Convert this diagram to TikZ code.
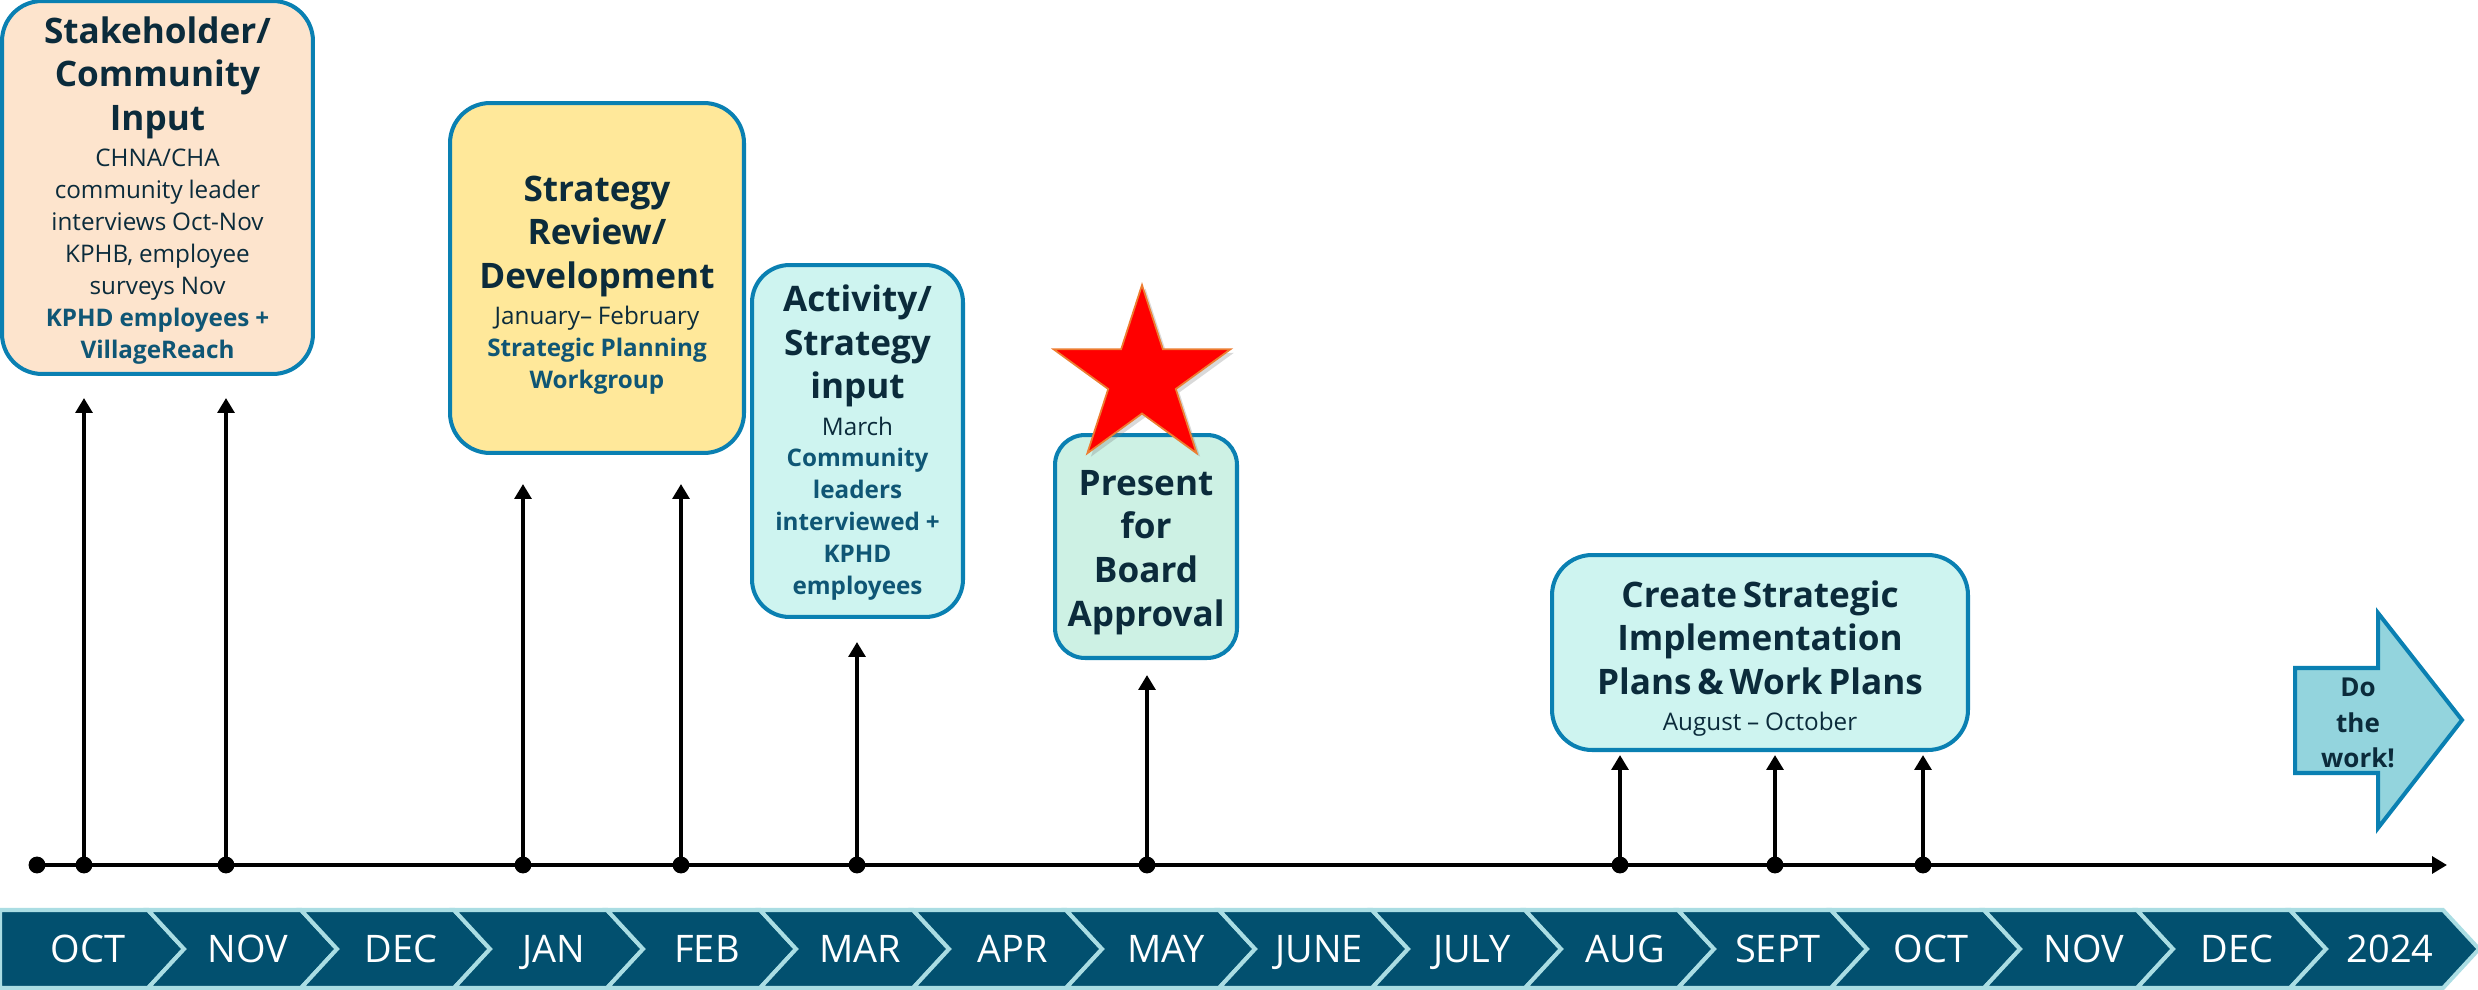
\documentclass[tikz,border=0pt]{standalone}
\usepackage{fontspec}
\setmainfont{Open Sans}
\usetikzlibrary{positioning,arrows.meta,shapes.geometric,shadows}

\definecolor{boxline}{HTML}{0A80B2}
\definecolor{peach}{HTML}{FDE4CD}
\definecolor{butter}{HTML}{FFE89A}
\definecolor{aqua}{HTML}{CEF4F0}
\definecolor{mint}{HTML}{CDF1E4}
\definecolor{arrowfill}{HTML}{93D4DD}
\definecolor{ink}{HTML}{0B2B3B}
\definecolor{teamink}{HTML}{0F5675}
\definecolor{band}{HTML}{02506F}
\definecolor{bandline}{HTML}{AADDE3}
\definecolor{starline}{HTML}{ED7D31}

\newcommand{\boxhead}[1]{{\fontsize{20pt}{24.8pt}\selectfont\bfseries #1\par}\vspace{2.3pt}}
\newcommand{\boxbody}[1]{{\fontsize{13.8pt}{18.2pt}\selectfont #1\par}}
\newcommand{\boxteam}[1]{{\fontsize{13.8pt}{18.2pt}\selectfont\bfseries\color{teamink}#1\par}}

\begin{document}
\begin{tikzpicture}[x=0.02cm, y=-0.02cm,
  stagebox/.style={draw=boxline, line width=2.3pt, rounded corners=0.8cm, inner sep=0pt},
  stagetext/.style={align=center, text=ink, inner sep=0pt},
  riser/.style={line width=2.8pt, -{Triangle[width=9.5pt,length=8.5pt]}},
  chevron/.style={fill=band, draw=bandline, line width=2.3pt},
  monthlabel/.style={text=white, font=\fontsize{21.6pt}{26pt}\selectfont, text height=15.4pt, text depth=0pt}]
\useasboundingbox (0,0) rectangle (2478,990);

% Radius of the dots on the time axis
\def\radius{4.8pt}

% Month chevrons along the bottom
\draw[chevron] (0,910) -- (148,910) -- (184,949) -- (148,988) -- (0,988) -- cycle;
\foreach \i in {1,...,15} {
  \pgfmathsetmacro\xl{-5+153*\i}
  \draw[chevron] (\xl,910) -- ({\xl+153},910) -- ({\xl+189},949) -- ({\xl+153},988) -- (\xl,988) -- ({\xl+36},949) -- cycle;
}
\node[monthlabel] (month0) at (88,949) {OCT};
\foreach \month [count=\i from 1] in {NOV,DEC,JAN,FEB,MAR,APR,MAY,JUNE,JULY,AUG,SEPT,OCT,NOV,DEC,2024} {
  \node[monthlabel] (month\i) at ({95+153*\i},949) {\month};
}

% Stage boxes
\node[stagebox, fill=peach, minimum width=6.22cm, minimum height=7.46cm] (stakeholder) at (157.5,187.5) {};
\node[stagetext, text width=5.8cm] (stakeholdertext) at ([yshift=-1.7pt]stakeholder.center)
  {\boxhead{Stakeholder/\\Community\\Input}\boxbody{CHNA/CHA\\community leader\\interviews Oct-Nov\\KPHB, employee\\surveys Nov}\boxteam{KPHD employees +\\VillageReach}};

\node[stagebox, fill=butter, minimum width=5.88cm, minimum height=7cm] (review) at (597,278) {};
\node[stagetext, text width=5.6cm] (reviewtext) at ([yshift=-4pt]review.center)
  {\boxhead{Strategy\\Review/\\Development}\boxbody{January-- February}\boxteam{Strategic Planning\\Workgroup}};

\node[stagebox, fill=aqua, rounded corners=0.75cm, minimum width=4.22cm, minimum height=7.04cm] (activity) at (857.5,441) {};
\node[stagetext, text width=4cm] (activitytext) at ([yshift=-1.1pt]activity.center)
  {\boxhead{Activity/\\Strategy\\input}\boxbody{March}\boxteam{Community\\leaders\\interviewed +\\KPHD\\employees}};

\node[stagebox, fill=mint, rounded corners=0.6cm, minimum width=3.64cm, minimum height=4.46cm] (board) at (1146,546.5) {};
\node[stagetext, text width=3.4cm] (boardtext) at ([yshift=-4.5pt]board.center)
  {\boxhead{Present\\for\\Board\\Approval}};

\node[stagebox, fill=aqua, minimum width=8.32cm, minimum height=3.9cm] (plans) at (1760,652.5) {};
\node[stagetext, text width=8cm] (planstext) at ([yshift=-3.4pt]plans.center)
  {\boxhead{Create Strategic\\Implementation\\Plans \& Work Plans}\boxbody{August -- October}};

% Star over the approval box
\node[star, star points=5, star point ratio=2.618, minimum size=3.72cm, inner sep=0pt, fill=red, draw=starline, line width=1pt,
  drop shadow={opacity=0.3, shadow xshift=2pt, shadow yshift=-2pt}] (approvalstar) at (1142,378) {};

% Do the work arrow
\draw[fill=arrowfill, draw=boxline, line width=2.3pt] (2295,668) -- (2378,668) -- (2378,613) -- (2462,720) -- (2378,828) -- (2378,773) -- (2295,773) -- cycle;
\node[text=ink, font=\fontsize{14.8pt}{20pt}\selectfont\bfseries, align=center] (dowork) at (2358,723) {Do\\the\\work!};

% Time axis
\coordinate (axisstart) at (37,865);
\coordinate (axisend) at (2447,865);
\draw[riser] (axisstart) -- (axisend);
\fill (axisstart) circle (\radius);

% Risers up to the stages
\foreach \name/\x/\top in {octa/84/398, novb/226/398, jan/523/484, feb/681/484, mar/857/642, may/1147/675, aug/1620/755, sept/1775/755, oct/1923/755} {
  \coordinate (\name) at (\x,865);
  \coordinate (\name top) at (\x,\top);
  \draw[riser] (\name) -- (\name top);
  \fill (\name) circle (\radius);
}
\end{tikzpicture}
\end{document}
